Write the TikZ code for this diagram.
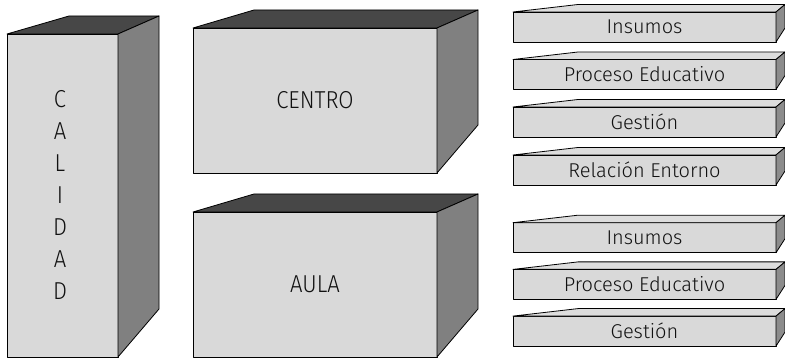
\documentclass[tikz,border=0pt]{standalone}
\usepackage{fontspec}
\setmainfont{Fira Sans Light}
\newfontfamily\bigfam{Fira Sans Light}[FakeStretch=0.9]
\definecolor{frontgray}{HTML}{D9D9D9}
\definecolor{topdark}{HTML}{474747}
\definecolor{sidegray}{HTML}{808080}
\definecolor{smalltop}{HTML}{DDDDDD}
\definecolor{smallside}{HTML}{8C8C8C}
\definecolor{txt}{HTML}{111111}
\tikzset{
  edge/.style={draw=black, line width=0.8pt, line join=round},
  bigfont/.style={text=txt, font=\bigfam\fontsize{24.5}{28}\selectfont},
  bigfront/.style={edge, fill=frontgray, anchor=north west, inner sep=0pt, outer sep=0pt, bigfont},
  smallfront/.style={edge, fill=frontgray, anchor=north west, inner sep=0pt, outer sep=0pt,
    minimum width=263pt, minimum height=30pt, text=txt, font=\fontsize{20}{24}\selectfont},
  bigtop/.style={edge, fill=topdark},
  bigside/.style={edge, fill=sidegray},
  smtop/.style={edge, fill=smalltop},
  smside/.style={edge, fill=smallside}
}
\newcommand{\bigcube}[2]{%
  \path[bigtop] (#1.north west) -- ++(#2,-18) -- ($(#1.north east)+(41,-18)$) -- (#1.north east) -- cycle;
  \path[bigside] (#1.north east) -- ++(41,-18) -- ($(#1.south east)+(41,-48)$) -- (#1.south east) -- cycle;
}
\newcommand{\smallcube}[1]{%
  \path[smtop] (#1.north west) -- ++(65,-7.5) -- ($(#1.north east)+(9,-7.5)$) -- (#1.north east) -- cycle;
  \path[smside] (#1.north east) -- ++(9,-7.5) -- ($(#1.south east)+(9,-14)$) -- (#1.south east) -- cycle;
}
\usetikzlibrary{calc}
\begin{document}
\begin{tikzpicture}[x=1pt,y=-1pt]
\useasboundingbox (0,0) rectangle (785,358);
% CALIDAD
\node[bigfront, minimum width=111pt, minimum height=323pt] (calidad) at (7,34) {};
\bigcube{calidad}{62}
\foreach \l [count=\i from 0] in {C,A,L,I,D,A,D}
  \node[bigfont, inner sep=0pt] (cal\i) at (60,99+32*\i) {\l};
% CENTRO
\node[bigfront, minimum width=244pt, minimum height=145pt] (centro) at (193,28) {CENTRO};
\bigcube{centro}{61}
% AULA
\node[bigfront, minimum width=244pt, minimum height=145pt] (aula) at (193,212) {AULA};
\bigcube{aula}{61}
% small boxes, upper group
\node[smallfront] (s1) at (513,12) {Insumos};
\smallcube{s1}
\node[smallfront] (s2) at (513,59.5) {Proceso Educativo};
\smallcube{s2}
\node[smallfront] (s3) at (513,107) {Gestión};
\smallcube{s3}
\node[smallfront] (s4) at (513,155) {Relación Entorno};
\smallcube{s4}
% small boxes, lower group
\node[smallfront] (s5) at (513,222.7) {Insumos};
\smallcube{s5}
\node[smallfront] (s6) at (513,269.4) {Proceso Educativo};
\smallcube{s6}
\node[smallfront] (s7) at (513,316.1) {Gestión};
\smallcube{s7}
\end{tikzpicture}
\end{document}
